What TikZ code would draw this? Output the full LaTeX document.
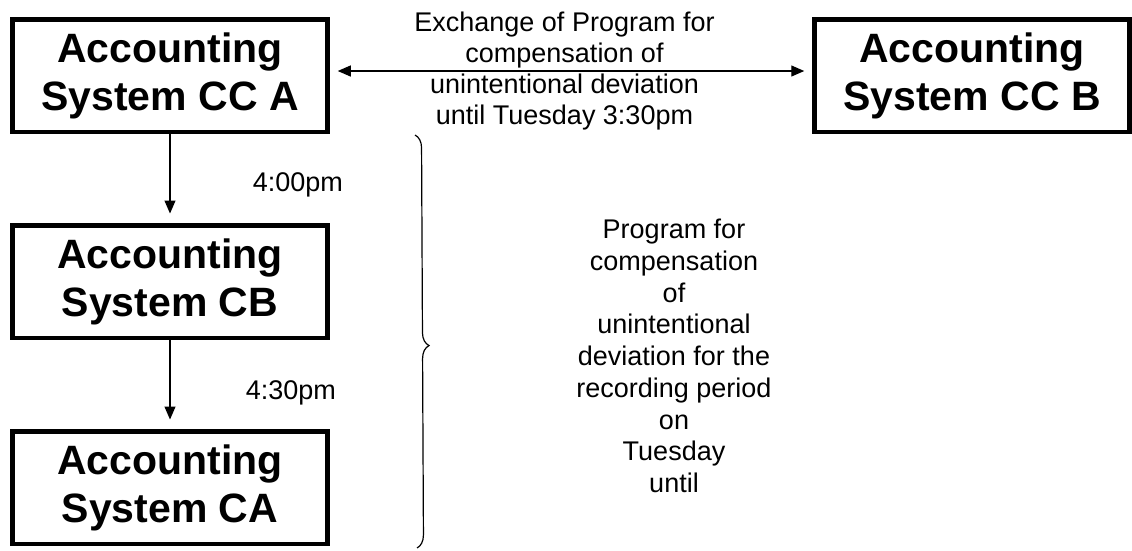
\documentclass[tikz,border=0pt]{standalone}
\usepackage{fontspec}
\setmainfont{Liberation Sans}
\usetikzlibrary{arrows.meta,decorations.pathreplacing}

\begin{document}
\begin{tikzpicture}[x=1pt,y=-1pt,>={Triangle[length=13pt,width=11pt]},line width=1.2pt,node distance=206pt,
  system/.style={draw,line width=4.5pt,minimum width=315pt,minimum height=112.5pt,align=center,inner sep=0pt,font=\fontsize{41}{48}\selectfont\bfseries},
  note/.style={align=center,font=\fontsize{27}{31}\selectfont}]
\useasboundingbox (0,0) rectangle (1132,550);
\node[system] (cca) at (170,75.5) {Accounting\\System CC A};
\node[system] (cb) [below of=cca] {Accounting\\System CB};
\node[system] (ca) [below of=cb] {Accounting\\System CA};
\node[system,node distance=802pt] (ccb) [right of=cca] {Accounting\\System CC B};

\path[->,shorten >=9.5pt] (cca) edge node[note,right,xshift=79pt,yshift=-6pt] {4:00pm} (cb)
(cb) edge node[note,right,xshift=72pt,yshift=-8pt] {4:30pm} (ca);
\draw[<->,shorten <=8pt,shorten >=8pt] ([yshift=4.5pt]cca.east) -- node[note,xshift=-6.5pt] {Exchange of Program for\\compensation of\\unintentional deviation\\until Tuesday 3:30pm} ([yshift=4.5pt]ccb.west);

\node[note,font=\fontsize{27}{31.75}\selectfont] (prog) at (674,356) {Program for\\compensation\\of\\unintentional\\deviation for the\\recording period\\on\\Tuesday\\until};
\draw[decorate,decoration={brace,amplitude=13pt,aspect=0.51}] (415,135) -- (417,548);
\end{tikzpicture}
\end{document}
